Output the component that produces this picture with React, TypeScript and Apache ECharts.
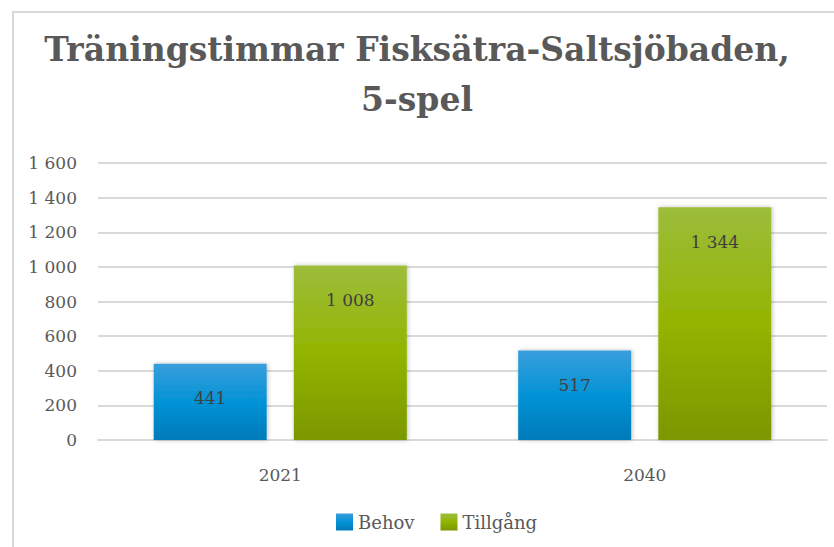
import React, { useEffect, useRef } from "react";
import * as echarts from "echarts";

const categories = ["2021", "2040"];
const behov = [441, 517];
const tillgang = [1008, 1344];
const seriesNames = ["Behov", "Tillgång"];
const titleLines = ["Träningstimmar Fisksätra-Saltsjöbaden,", "5-spel"];

const fmt = (v: number) => String(v).replace(/\B(?=(\d{3})+(?!\d))/g, " ");
const FONT = "'DejaVu Serif'";

export default function App() {
  const ref = useRef<HTMLDivElement>(null);
  useEffect(() => {
    if (!ref.current) return;
    const chart = echarts.init(ref.current, undefined, { renderer: "svg" });
    const blue = new echarts.graphic.LinearGradient(0, 0, 0, 1, [
      { offset: 0, color: "#3a9edb" },
      { offset: 0.5, color: "#0293d6" },
      { offset: 1, color: "#017ab9" },
    ]);
    const green = new echarts.graphic.LinearGradient(0, 0, 0, 1, [
      { offset: 0, color: "#9dbd3c" },
      { offset: 0.5, color: "#93b400" },
      { offset: 1, color: "#7b9700" },
    ]);
    const label = {
      show: true,
      position: "insideTop",
      distance: 26,
      color: "#404040",
      fontFamily: FONT,
      fontSize: 17,
      formatter: (p: any) => fmt(p.value),
    };
    chart.setOption({
      animation: false,
      backgroundColor: "#ffffff",
      textStyle: { fontFamily: FONT },
      graphic: [
        {
          type: "rect",
          shape: { x: 13, y: 12, width: 900, height: 600 },
          style: { fill: "none", stroke: "#d9d9d9", lineWidth: 2 },
          silent: true,
        },
        ...titleLines.map((t, i) => ({
          type: "text",
          x: 417,
          y: 49 + i * 50,
          silent: true,
          style: {
            text: t,
            fill: "#595959",
            fontFamily: FONT,
            fontSize: 33,
            fontWeight: "bold",
            textAlign: "center",
            textVerticalAlign: "middle",
          },
        })),
      ],
      legend: {
        bottom: 11,
        left: 331,
        itemWidth: 17,
        itemHeight: 17,
        itemGap: 26,
        itemTextGap: 6,
        icon: "rect",
        textStyle: { fontFamily: FONT, fontSize: 18, color: "#595959" },
        data: seriesNames,
      },
      grid: { left: 98, right: 7, top: 163, bottom: 107, containLabel: false },
      xAxis: {
        type: "category",
        data: categories,
        axisLine: { show: true, lineStyle: { color: "#d9d9d9", width: 2 } },
        axisTick: { show: false },
        axisLabel: { color: "#595959", fontSize: 17, fontFamily: FONT, margin: 26 },
      },
      yAxis: {
        type: "value",
        min: 0,
        max: 1600,
        interval: 200,
        axisLine: { show: false },
        axisTick: { show: false },
        splitLine: { lineStyle: { color: "#d9d9d9", width: 2 } },
        axisLabel: {
          color: "#595959",
          fontSize: 17,
          fontFamily: FONT,
          margin: 21,
          formatter: (v: number) => fmt(v),
        },
      },
      series: [
        {
          name: seriesNames[0],
          type: "bar",
          data: behov,
          barWidth: 113,
          barGap: "24%",
          itemStyle: { color: blue, shadowColor: "rgba(0,0,0,0.25)", shadowBlur: 4, shadowOffsetX: 1 },
          label,
        },
        {
          name: seriesNames[1],
          type: "bar",
          data: tillgang,
          barWidth: 113,
          barGap: "24%",
          itemStyle: { color: green, shadowColor: "rgba(0,0,0,0.25)", shadowBlur: 4, shadowOffsetX: 1 },
          label,
        },
      ],
    });
    return () => chart.dispose();
  }, []);
  return (
    <div
      ref={ref}
      style={{ position: "absolute", left: 0, top: 0, width: 834, height: 547 }}
    />
  );
}
